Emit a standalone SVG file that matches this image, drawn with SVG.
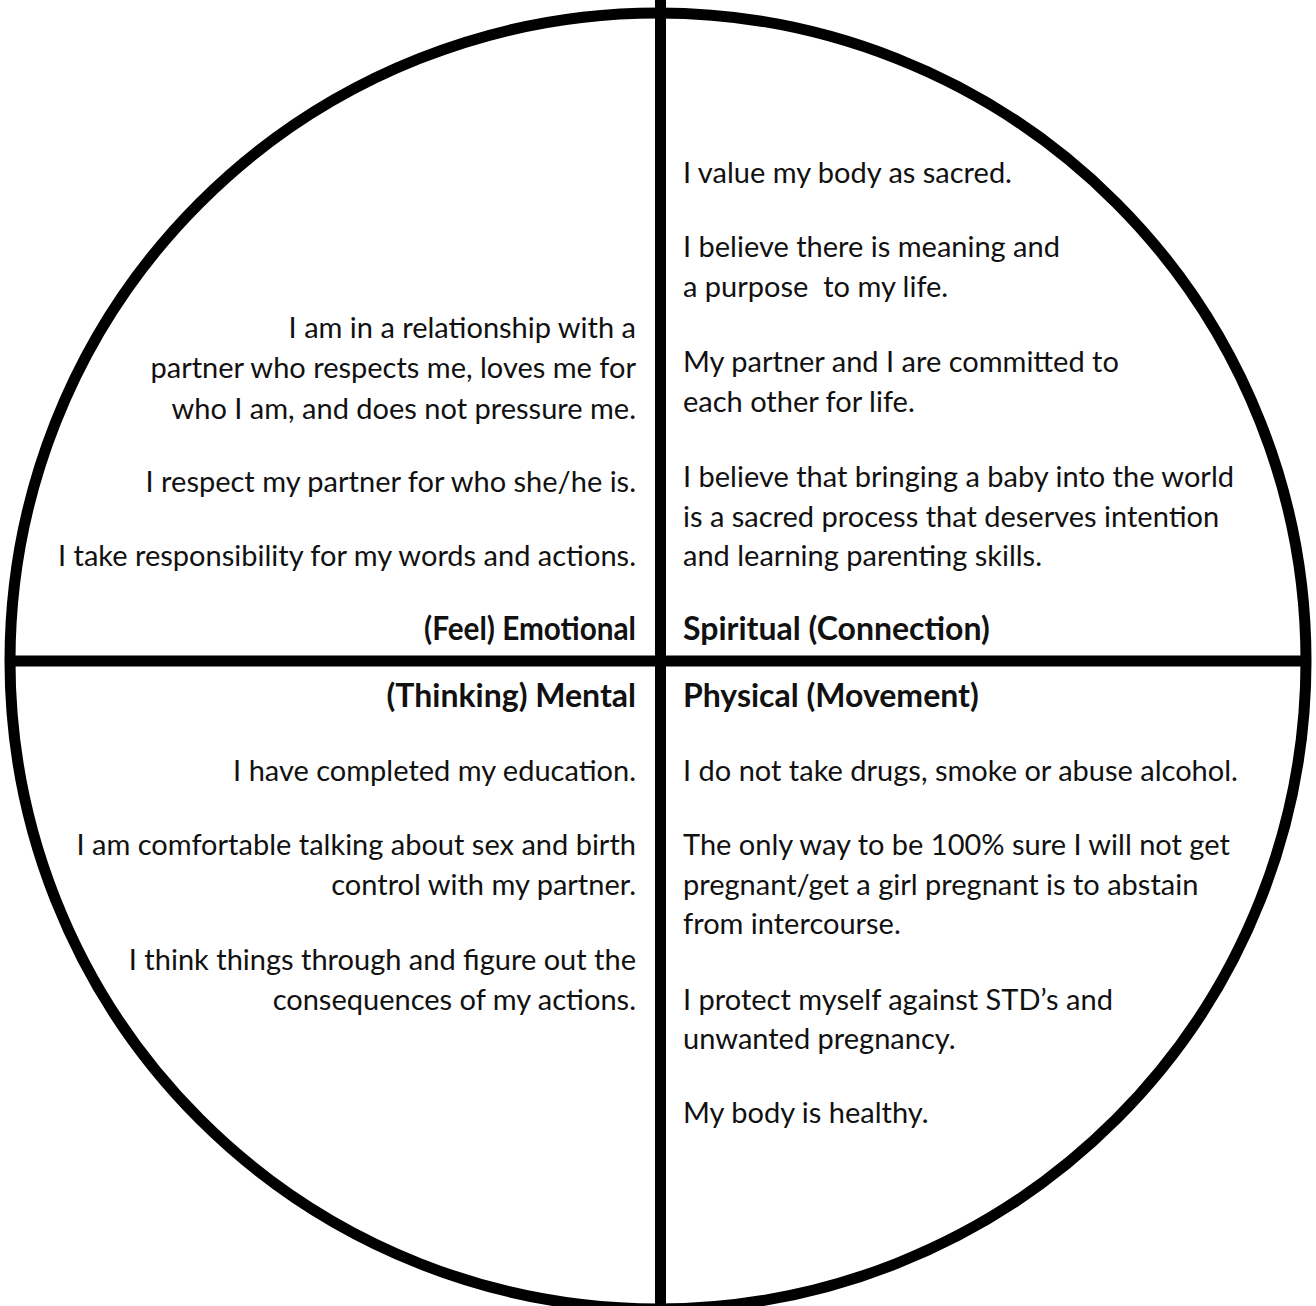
<svg xmlns="http://www.w3.org/2000/svg" width="1316" height="1306" viewBox="0 0 1316 1306">
<style>
text{font-family:Lato,"Open Sans","Liberation Sans",sans-serif;font-size:29px;fill:#111;}
.r{text-anchor:end;}
.b{font-weight:bold;font-size:32px;}
.ln{stroke:#000;stroke-width:11;fill:none;}
</style>
<rect width="1316" height="1306" fill="#fff"/>
<g id="connectors">
<circle class="ln" cx="658" cy="661" r="648"/>
<line class="ln" x1="660.5" y1="0" x2="660.5" y2="1306"/>
<line class="ln" x1="10" y1="661" x2="1306" y2="661"/>
</g>
<g id="emotional">
<text class="r" x="636" y="338">I am in a relationship with a</text>
<text class="r" x="636" y="378">partner who respects me, loves me for</text>
<text class="r" x="636" y="419">who I am, and does not pressure me.</text>
<text class="r" x="636" y="492">I respect my partner for who she/he is.</text>
<text class="r" x="636" y="566">I take responsibility for my words and actions.</text>
<text class="r b" x="636" y="640" textLength="212" lengthAdjust="spacingAndGlyphs">(Feel) Emotional</text>
</g>
<g id="spiritual">
<text x="683" y="183">I value my body as sacred.</text>
<text x="683" y="257">I believe there is meaning and</text>
<text x="683" y="297">a purpose&#160; to my life.</text>
<text x="683" y="372">My partner and I are committed to</text>
<text x="683" y="412">each other for life.</text>
<text x="683" y="487">I believe that bringing a baby into the world</text>
<text x="683" y="527">is a sacred process that deserves intention</text>
<text x="683" y="566">and learning parenting skills.</text>
<text class="b" x="683" y="640">Spiritual (Connection)</text>
</g>
<g id="mental">
<text class="r b" x="636" y="707">(Thinking) Mental</text>
<text class="r" x="636" y="781">I have completed my education.</text>
<text class="r" x="636" y="855">I am comfortable talking about sex and birth</text>
<text class="r" x="636" y="895">control with my partner.</text>
<text class="r" x="636" y="970">I think things through and figure out the</text>
<text class="r" x="636" y="1010">consequences of my actions.</text>
</g>
<g id="physical">
<text class="b" x="683" y="707">Physical (Movement)</text>
<text x="683" y="781">I do not take drugs, smoke or abuse alcohol.</text>
<text x="683" y="855">The only way to be 100% sure I will not get</text>
<text x="683" y="895">pregnant/get a girl pregnant is to abstain</text>
<text x="683" y="934">from intercourse.</text>
<text x="683" y="1010">I protect myself against STD’s and</text>
<text x="683" y="1049">unwanted pregnancy.</text>
<text x="683" y="1123">My body is healthy.</text>
</g>
</svg>
